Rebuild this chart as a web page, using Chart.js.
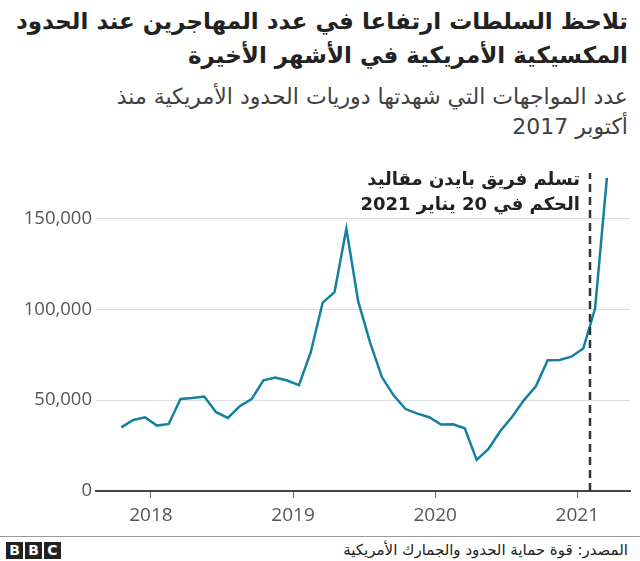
<!DOCTYPE html>
<html>
<head>
<meta charset="utf-8">
<script src="https://cdn.jsdelivr.net/npm/chart.js@4"></script>
<style>
  body { margin:0; width:640px; height:561px; background:#fff; position:relative; overflow:hidden; font-family:"DejaVu Sans", sans-serif; }
  .title { position:absolute; right:12px; top:4px; direction:rtl; text-align:right; white-space:nowrap; font-weight:bold; font-size:23px; line-height:34px; color:#222; }
  .subtitle { position:absolute; right:12px; top:82px; direction:rtl; text-align:right; white-space:nowrap; font-size:22px; line-height:30px; color:#404040; }
  #wrap { position:absolute; left:0; top:150px; width:640px; height:385px; }
  .rule { position:absolute; left:0; top:536px; width:640px; height:1px; background:#999; }
  .logo { position:absolute; left:6px; top:542px; display:flex; gap:2px; }
  .logo span { width:17px; height:17px; background:#222; color:#fff; font:bold 14px "DejaVu Sans", sans-serif; text-align:center; line-height:17px; }
  .source { position:absolute; right:12px; top:541px; direction:rtl; font-size:15px; color:#222; white-space:nowrap; }
</style>
</head>
<body>
<div class="title">تلاحظ السلطات ارتفاعا في عدد المهاجرين عند الحدود<br>المكسيكية الأمريكية في الأشهر الأخيرة</div>
<div class="subtitle">عدد المواجهات التي شهدتها دوريات الحدود الأمريكية منذ<br>أكتوبر 2017</div>
<div id="wrap"><canvas id="chart"></canvas></div>
<div class="rule"></div>
<div class="logo"><span>B</span><span>B</span><span>C</span></div>
<div class="source">المصدر: قوة حماية الحدود والجمارك الأمريكية</div>

<script>
// Months (year-month), Oct 2017 .. Mar 2021
const months = [
  "2017-10","2017-11","2017-12",
  "2018-01","2018-02","2018-03","2018-04","2018-05","2018-06","2018-07","2018-08","2018-09","2018-10","2018-11","2018-12",
  "2019-01","2019-02","2019-03","2019-04","2019-05","2019-06","2019-07","2019-08","2019-09","2019-10","2019-11","2019-12",
  "2020-01","2020-02","2020-03","2020-04","2020-05","2020-06","2020-07","2020-08","2020-09","2020-10","2020-11","2020-12",
  "2021-01","2021-02","2021-03"
];
// Encounters per month
const encounters = [
  35000, 39100, 40600,
  36000, 36900, 50600, 51200, 52000, 43400, 40200, 46700, 50600, 60900, 62500, 60800,
  58300, 76500, 103700, 109400, 144300, 104300, 81800, 62700, 52500, 45100, 42600, 40600,
  36600, 36700, 34500, 17100, 23200, 33000, 40900, 50000, 57600, 71900, 72100, 73900,
  78400, 100400, 172300
];
const yearTicks = [2018, 2019, 2020, 2021];
const yTicks = [0, 50000, 100000, 150000];
// Biden took office (marker position on the month axis, as drawn)
const inaugurationMonth = 37.05;
const noteLines = ["تسلم فريق بايدن مقاليد", "الحكم في 20 يناير 2021"];

// x = months since Jan 2018, plotted mid-month
const toX = m => {
  const [y, mo] = m.split("-").map(Number);
  return (y - 2018) * 12 + (mo - 1) + 0.5;
};
const points = months.map((m, i) => ({ x: toX(m), y: encounters[i] }));

const notePlugin = {
  id: "note",
  afterDatasetsDraw(chart) {
    const { ctx, scales: { x, y } } = chart;
    const px = Math.round(x.getPixelForValue(inaugurationMonth));
    ctx.save();
    ctx.strokeStyle = "#333";
    ctx.lineWidth = 2.5;
    ctx.setLineDash([8, 5]);
    ctx.beginPath();
    ctx.moveTo(px, y.getPixelForValue(0));
    ctx.lineTo(px, chart.chartArea.top);
    ctx.stroke();
    ctx.setLineDash([]);
    ctx.fillStyle = "#222";
    ctx.font = "bold 18px 'DejaVu Sans'";
    ctx.direction = "rtl";
    ctx.textAlign = "right";
    ctx.textBaseline = "middle";
    ctx.fillText(noteLines[0], px - 10, chart.chartArea.top + 7);
    ctx.fillText(noteLines[1], px - 10, chart.chartArea.top + 32);
    ctx.restore();
  }
};

new Chart(document.getElementById("chart"), {
  type: "line",
  data: {
    datasets: [{
      data: points,
      borderColor: "#1380a1",
      borderWidth: 2.5,
      pointRadius: 0,
      tension: 0
    }]
  },
  options: {
    responsive: true,
    maintainAspectRatio: false,
    animation: false,
    layout: { padding: { top: 23, right: 10 } },
    plugins: { legend: { display: false }, tooltip: { enabled: false } },
    scales: {
      x: {
        type: "linear",
        min: -4.64,
        max: 40.45,
        afterBuildTicks: axis => { axis.ticks = yearTicks.map(yr => ({ value: (yr - 2018) * 12 })); },
        afterFit: axis => { axis.height = 44; },
        grid: { drawOnChartArea: false, drawTicks: true, tickLength: 7, color: "#666", lineWidth: 1 },
        border: { color: "#444", width: 2 },
        ticks: {
          padding: 6,
          color: "#555",
          font: { family: "'Open Sans'", size: 19 },
          callback: v => String(2018 + v / 12)
        }
      },
      y: {
        min: 0,
        max: 175000,
        afterBuildTicks: axis => { axis.ticks = yTicks.map(v => ({ value: v })); },
        afterFit: axis => { axis.width = 96; },
        grid: { drawTicks: false, color: c => c.tick.value === 0 ? "rgba(0,0,0,0)" : "#ddd", lineWidth: 1 },
        border: { display: false },
        ticks: {
          padding: 4,
          color: "#555",
          font: { family: "'Open Sans'", size: 18.5 },
          callback: v => v.toLocaleString("en-US")
        }
      }
    }
  },
  plugins: [notePlugin]
});
</script>
</body>
</html>
